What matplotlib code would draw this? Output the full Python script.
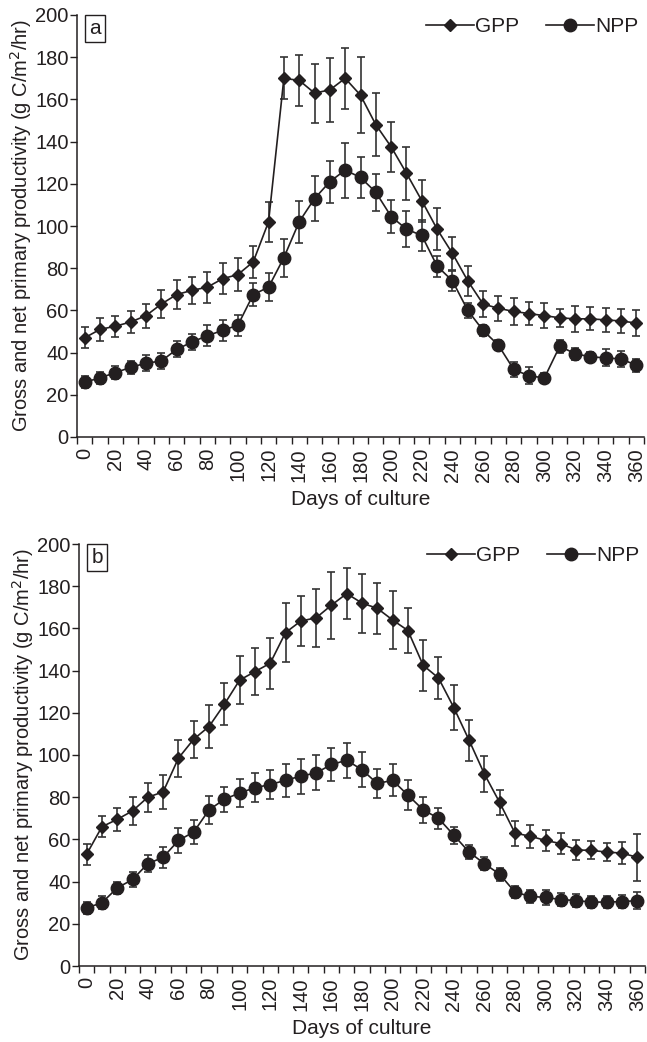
import numpy as np
import matplotlib.pyplot as plt
from matplotlib.lines import Line2D
from matplotlib.ticker import MultipleLocator, FixedLocator

plt.rcParams['font.family'] = ['Liberation Sans', 'DejaVu Sans']

days = np.arange(0, 361, 10)

# panel a
gpp_a = [47, 51, 52.5, 54.5, 57.5, 63, 67.5, 69.5, 71, 75, 77, 83, 102, 170, 169, 163, 164.5, 170, 162,
         148, 137.5, 125, 112, 98.5, 87, 74, 63, 61, 59.5, 58.5, 57.5, 56.5, 56, 56, 55.5, 55, 54]
gpp_a_err = [5, 5.5, 5, 5, 5.7, 6.5, 6.8, 6.5, 7.3, 7.3, 7.7, 7.5, 9.5, 10, 12, 14, 15, 14.5, 18,
             15, 12, 12.6, 10, 10, 8, 7, 6.3, 5.8, 6.5, 5.4, 6, 4.4, 6.2, 5.5, 5.5, 5.5, 6]
npp_a = [26, 28, 30.5, 33, 35, 36, 41.5, 45, 48, 50.5, 53, 67.5, 71, 85, 102, 113, 121, 126.5, 123,
         116, 104.5, 98.5, 95.5, 81, 74, 60, 50.5, 43.5, 32, 29, 28, 43, 39.5, 38, 37.5, 37, 34]
npp_a_err = [3, 3, 3, 3, 3.8, 4, 3.8, 4, 5, 5, 5, 5.5, 6.7, 9, 10, 10.6, 10, 13, 9.5,
             8.7, 7.9, 8.5, 7.3, 5, 4.7, 3.5, 2.5, 2.5, 3.7, 4, 2.5, 3, 2.8, 2.5, 4, 3.6, 3]

# panel b
gpp_b = [53, 66, 69.5, 73.5, 80, 82.5, 98.5, 107.5, 113.5, 124, 135.5, 139.5, 143.5, 158, 163.5, 165, 171, 176.5, 172,
         169.5, 164, 159, 142.5, 136.5, 122.5, 107, 91, 77.5, 63, 61.5, 59.5, 58, 55, 54.8, 54, 53.5, 51.5]
gpp_b_err = [5, 4.9, 5.3, 6.5, 6.9, 7.9, 8.8, 8.8, 10, 9.9, 11.2, 11.2, 12, 13.9, 12, 13.9, 15.9, 12.1, 14,
             12, 13.9, 10.7, 12, 10, 10.8, 9.7, 8.3, 6.1, 5.9, 5.5, 5.1, 5.1, 4.7, 4.3, 4.3, 5.1, 11.2]
npp_b = [27.5, 30, 37, 41, 48.5, 51.5, 59.5, 63.5, 74, 79, 82, 84.5, 86, 88, 90, 91.5, 95.5, 97.5, 93,
         86.5, 88, 81, 74, 70, 62, 54, 48.5, 43.5, 35, 33, 32.5, 31.5, 31, 30.3, 30.3, 30.5, 31]
npp_b_err = [3, 3, 3, 3.5, 4, 5, 6, 5.5, 6.5, 6, 6.5, 7, 7, 7.7, 8.3, 8.3, 7.8, 8.4, 8.3,
             6.9, 7.6, 7.1, 6.3, 5.1, 4, 3.5, 3, 3, 3, 3, 3.5, 3, 3, 3, 3, 3, 4]

ink = '#231f20'
fig = plt.figure(figsize=(6.47, 10.42), dpi=100)
ax_a = fig.add_axes([77 / 647, 1 - 437 / 1042, 567 / 647, 422 / 1042])
ax_b = fig.add_axes([79 / 647, 1 - 966 / 1042, 566 / 647, 422 / 1042])

for ax, gpp, gerr, npp, nerr, tag in [(ax_a, gpp_a, gpp_a_err, npp_a, npp_a_err, 'a'),
                                       (ax_b, gpp_b, gpp_b_err, npp_b, npp_b_err, 'b')]:
    ax.errorbar(days, gpp, yerr=gerr, color=ink, ecolor='#333333', elinewidth=1.2, capsize=3,
                capthick=1.2, lw=1.2, marker='D', ms=6.5)
    ax.errorbar(days, npp, yerr=nerr, color=ink, ecolor='#333333', elinewidth=1.2, capsize=3,
                capthick=1.2, lw=1.2, marker='o', ms=9)
    ax.set_xlim(-5, 365)
    ax.set_ylim(0, 200)
    ax.yaxis.set_major_locator(MultipleLocator(20))
    ax.set_xticks(np.arange(0, 361, 20))
    ax.xaxis.set_minor_locator(FixedLocator(np.arange(-5, 366, 10)))
    ax.tick_params(axis='x', which='major', length=0, pad=8, labelsize=14.5, labelrotation=90, colors=ink)
    ax.tick_params(axis='x', which='minor', length=5, width=1, color=ink)
    ax.tick_params(axis='y', length=5, width=1, labelsize=14.5, pad=1, colors=ink)
    for s in ['top', 'right']:
        ax.spines[s].set_visible(False)
    for s in ['left', 'bottom']:
        ax.spines[s].set_color(ink)
        ax.spines[s].set_linewidth(1.1)
    ax.set_xlabel('Days of culture', fontsize=15, color=ink, labelpad=6)
    ax.set_ylabel('Gross and net primary productivity (g C/m$^2$/hr)', fontsize=14.5, color=ink, labelpad=1)
    ax.text(0.022, 0.99, tag, transform=ax.transAxes, fontsize=15, color=ink, va='top', ha='left',
            bbox=dict(boxstyle='square,pad=0.2', fc='white', ec=ink, lw=1))
    handles = [Line2D([], [], color=ink, lw=1.2, marker='D', ms=6.5),
               Line2D([], [], color=ink, lw=1.2, marker='o', ms=9)]
    leg = ax.legend(handles, ['GPP', 'NPP'], loc='upper right', ncol=2, frameon=False, fontsize=15,
                    handlelength=2.3, handletextpad=0.05, columnspacing=1.3, borderaxespad=0.0,
                    bbox_to_anchor=(1.005, 1.015))
    for t in leg.get_texts():
        t.set_color(ink)

fig.savefig('out.png', dpi=100)
